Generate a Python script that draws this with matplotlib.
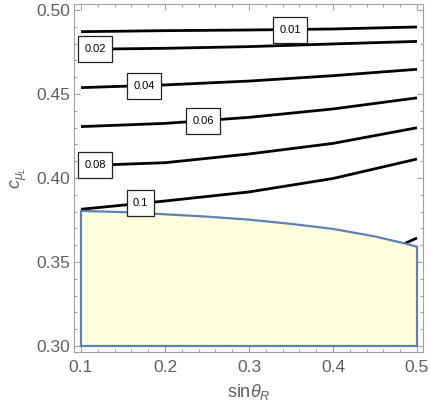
import numpy as np
import matplotlib
matplotlib.use("Agg")
import matplotlib.pyplot as plt
from matplotlib.ticker import MultipleLocator
from matplotlib.path import Path

# ---- data ----
x_samples = [0.1, 0.2, 0.3, 0.4, 0.5]
contour_levels = ["0.01", "0.02", "0.04", "0.06", "0.08", "0.1"]
c001 = [0.4871, 0.4877, 0.4881, 0.4887, 0.4899]
c002 = [0.4766, 0.4772, 0.4782, 0.4798, 0.4813]
c004 = [0.4538, 0.4554, 0.4577, 0.4609, 0.4647]
c006 = [0.4306, 0.4325, 0.4361, 0.4411, 0.4477]
c008 = [0.4073, 0.4091, 0.4143, 0.4206, 0.4299]
c010 = [0.3814, 0.3863, 0.3917, 0.3997, 0.4113]
contour_values = [c001, c002, c004, c006, c008, c010]
label_x = [0.3488, 0.1167, 0.175, 0.2452, 0.1167, 0.1708]

# short piece of the next contour at the lower right
c012_x = [0.4857, 0.5]
c012_y = [0.3611, 0.3643]

# excluded (shaded) region: top boundary
region_x = [0.1, 0.15, 0.2, 0.25, 0.3, 0.35, 0.4, 0.45, 0.485, 0.5]
region_top = [0.3804, 0.3797, 0.3784, 0.3770, 0.3752, 0.3727, 0.3697, 0.3652, 0.3611, 0.3591]
region_bottom = 0.30

x_ticks = [0.1, 0.2, 0.3, 0.4, 0.5]
y_ticks = [0.30, 0.35, 0.40, 0.45, 0.50]

# ---- style ----
plt.rcParams['font.family'] = ['Liberation Sans', 'DejaVu Sans']
plt.rcParams['mathtext.fontset'] = 'custom'
plt.rcParams['mathtext.rm'] = 'Liberation Sans'
plt.rcParams['mathtext.it'] = 'Liberation Sans:italic'
plt.rcParams['mathtext.bf'] = 'Liberation Sans:bold'

gray_text = '#606060'
frame_col = '#a0a0a0'


def label_box(x0, y0, width, height, mutation_size):
    padx = 0.55 * mutation_size
    pady = 0.72 * mutation_size
    x0, y0 = x0 - padx, y0 - pady
    x1, y1 = x0 + width + 2 * padx, y0 + height + 2 * pady
    return Path([(x0, y0), (x1, y0), (x1, y1), (x0, y1), (x0, y0)],
                closed=True)


fig = plt.figure(figsize=(4.31, 4.08), dpi=100)
ax = fig.add_axes([74/431, 1 - 352/408, (423-74)/431, (352-4)/408])

# shaded region
poly_x = [region_x[0]] + list(region_x) + [region_x[-1]]
poly_y = [region_bottom] + list(region_top) + [region_bottom]
ax.fill(poly_x, poly_y, facecolor='#FFFFDC', edgecolor='none', zorder=1)
ax.plot(poly_x + [poly_x[0]], poly_y + [poly_y[0]], color='#5E81B5', lw=1.6,
        zorder=3, solid_joinstyle='miter')

# contour lines
for yv in contour_values:
    ax.plot(x_samples, yv, color='black', lw=2.0, zorder=2, solid_capstyle='butt')
ax.plot(c012_x, c012_y, color='black', lw=2.0, zorder=2, solid_capstyle='butt')

# contour labels
for lab, lx, yv in zip(contour_levels, label_x, contour_values):
    ly = np.interp(lx, x_samples, yv)
    ax.text(lx, ly, lab, fontsize=8, ha='center', va='center', color='black', zorder=5,
            bbox=dict(boxstyle=label_box, facecolor='white', edgecolor='#222222', lw=0.9))

ax.set_xlim(0.1 - 7/840, 0.5 + 6/840)
ax.set_ylim(0.3 - 6/1680, 0.5 + 6/1680)

ax.set_xticks(x_ticks)
ax.set_xticklabels(["0.1", "0.2", "0.3", "0.4", "0.5"])
ax.set_yticks(y_ticks)
ax.set_yticklabels(["0.30", "0.35", "0.40", "0.45", "0.50"])
ax.xaxis.set_minor_locator(MultipleLocator(0.02))
ax.yaxis.set_minor_locator(MultipleLocator(0.01))

ax.tick_params(which='both', direction='in', top=True, right=True, color=frame_col, width=0.8)
ax.tick_params(which='major', length=4.5, labelsize=12.5, labelcolor=gray_text)
ax.tick_params(which='minor', length=2.5)
ax.tick_params(axis='x', which='major', pad=6)
ax.tick_params(axis='y', which='major', pad=3)

for s in ax.spines.values():
    s.set_color(frame_col)
    s.set_linewidth(0.8)

ax.set_xlabel(r'$\mathrm{sin}\theta_R$', fontsize=13, color=gray_text, labelpad=5)
ax.set_ylabel(r'$c_{\mu_L}$', fontsize=13, color=gray_text, labelpad=5)

fig.savefig('out.png', dpi=100)
